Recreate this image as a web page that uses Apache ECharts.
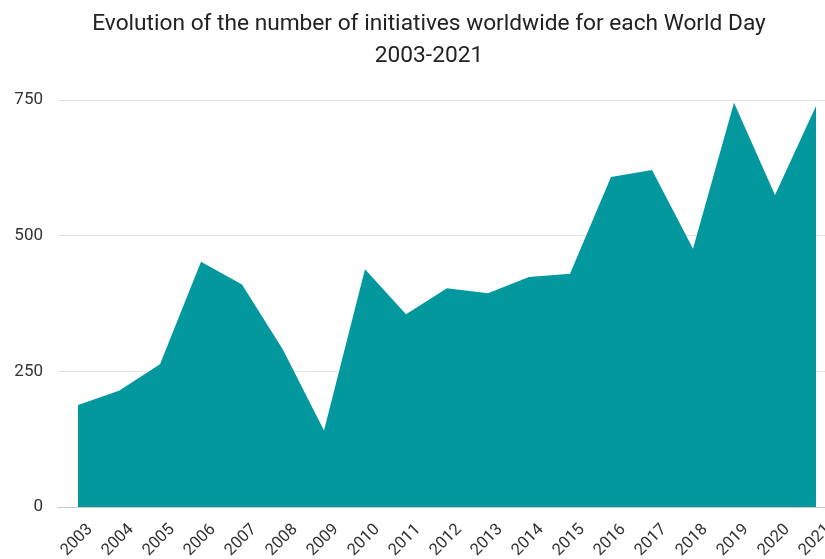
<!DOCTYPE html>
<html>
<head>
<meta charset="utf-8">
<script src="https://cdn.jsdelivr.net/npm/echarts@6/dist/echarts.min.js"></script>
<style>html,body{margin:0;padding:0;background:#fff;}#c{width:825px;height:559px;}</style>
</head>
<body>
<div id="c"></div>
<script>
var years = ['2003','2004','2005','2006','2007','2008','2009','2010','2011','2012','2013','2014','2015','2016','2017','2018','2019','2020','2021'];
var initiatives = [188, 214, 263, 452, 410, 290, 141, 438, 355, 403, 394, 424, 430, 608, 621, 476, 745, 575, 739];
var yTicks = [0, 250, 500, 750];
var titleLines = ['Evolution of the number of initiatives worldwide for each World Day', '2003-2021'];

var chart = echarts.init(document.getElementById('c'), null, {renderer: 'canvas'});
var font = 'Roboto, "Noto Sans", sans-serif';
chart.setOption({
  animation: false,
  backgroundColor: '#fff',
  title: {
    text: titleLines.join('\n'),
    left: 424,
    top: 3,
    textAlign: 'center',
    textStyle: {fontFamily: font, fontSize: 22.7, fontWeight: 'normal', color: '#222', lineHeight: 32}
  },
  grid: [
    {left: 78, right: 9, top: 100, bottom: 52, containLabel: false, outerBoundsMode: 'none'},
    {left: 58, right: 0, top: 100, bottom: 52, containLabel: false, outerBoundsMode: 'none'}
  ],
  xAxis: [
    {
      type: 'category', gridIndex: 0, data: years, boundaryGap: false,
      axisLine: {show: false}, axisTick: {show: false}, splitLine: {show: false},
      axisLabel: {rotate: 45, interval: 0, fontFamily: font, fontSize: 16.5, color: '#333', margin: 8, verticalAlign: 'top', lineHeight: 34}
    },
    {
      type: 'value', gridIndex: 1, min: 0, max: 1,
      axisLine: {show: true, lineStyle: {color: '#c8c8c8', width: 1}},
      axisTick: {show: false}, axisLabel: {show: false}, splitLine: {show: false}
    }
  ],
  yAxis: [
    {
      type: 'value', gridIndex: 0, min: yTicks[0], max: yTicks[yTicks.length - 1], interval: 250,
      axisLabel: {show: false}, axisLine: {show: false}, axisTick: {show: false}, splitLine: {show: false}
    },
    {
      type: 'value', gridIndex: 1, min: yTicks[0], max: yTicks[yTicks.length - 1], interval: 250,
      axisLine: {show: false}, axisTick: {show: false},
      axisLabel: {fontFamily: font, fontSize: 17, color: '#333', margin: 15},
      splitLine: {show: true, lineStyle: {color: '#e2e2e2', width: 1}}
    }
  ],
  series: [{
    type: 'line',
    xAxisIndex: 0, yAxisIndex: 0,
    data: initiatives,
    symbol: 'none',
    lineStyle: {width: 0, color: '#03989e'},
    areaStyle: {color: '#03989e', opacity: 1},
    z: 3
  }]
});
</script>
</body>
</html>
